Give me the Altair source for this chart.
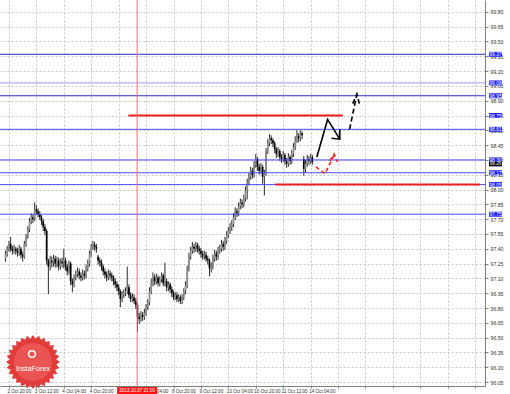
import math
import altair as alt
import pandas as pd

# ---------------- data ----------------
first_bar = -2
first_open = 97.30
gap_opens = {52: 97.32, 172: 98.31}

closes = [97.35, 97.40, 97.45, 97.40, 97.38, 97.40, 97.38, 97.36, 97.40, 97.34, 97.32, 97.45,
          97.52, 97.60, 97.68, 97.72, 97.70, 97.80, 97.78, 97.75, 97.72, 97.68,
          97.62, 97.58, 97.28, 97.22, 97.28, 97.26, 97.30, 97.25, 97.28, 97.22,
          97.27, 97.25, 97.28, 97.22, 97.17, 97.25, 97.07, 97.04, 97.11, 97.14,
          97.17, 97.13, 97.11, 97.15, 97.13, 97.20, 97.25, 97.35, 97.42, 97.44,
          97.42, 97.40, 97.28, 97.26, 97.22, 97.17, 97.14, 97.11, 97.15, 97.13,
          97.11, 97.07, 97.04, 97.01, 96.97, 96.89, 96.93, 96.95, 96.97, 97.01,
          96.93, 96.89, 96.91, 96.87, 96.83, 96.71, 96.69, 96.73, 96.71, 96.75,
          96.81, 96.85, 96.97, 97.05, 97.11, 97.07, 97.11, 97.05, 97.09, 97.13,
          97.05, 97.07, 97.01, 97.04, 96.99, 96.95, 96.91, 96.93, 96.89, 96.91,
          96.87, 96.91, 96.97, 97.03, 97.20, 97.32, 97.38, 97.42, 97.40, 97.44,
          97.40, 97.38, 97.35, 97.32, 97.34, 97.30, 97.28, 97.20, 97.22, 97.30,
          97.35, 97.32, 97.38, 97.40, 97.45, 97.42, 97.48, 97.54, 97.58, 97.62,
          97.65, 97.72, 97.78, 97.76, 97.83, 97.87, 97.85, 97.91, 97.99, 98.07,
          98.13, 98.19, 98.15, 98.25, 98.31, 98.23, 98.19, 98.23, 98.13, 98.16,
          98.39, 98.47, 98.52, 98.50, 98.47, 98.41, 98.36, 98.39, 98.33, 98.31,
          98.35, 98.29, 98.26, 98.33, 98.29, 98.36, 98.43, 98.50, 98.54, 98.52,
          98.57, 98.55, 98.21, 98.26, 98.31, 98.29, 98.33, 98.28]

highs = [97.38, 97.43, 97.48, 97.52, 97.43, 97.44, 97.42, 97.41, 97.44, 97.42, 97.37, 97.48,
         97.55, 97.63, 97.71, 97.76, 97.75, 97.87, 97.84, 97.81, 97.78, 97.74,
         97.70, 97.65, 97.60, 97.30, 97.33, 97.32, 97.34, 97.33, 97.32, 97.31,
         97.30, 97.31, 97.40, 97.31, 97.25, 97.28, 97.27, 97.10, 97.14, 97.18,
         97.21, 97.20, 97.16, 97.19, 97.18, 97.24, 97.29, 97.38, 97.45, 97.48,
         97.47, 97.45, 97.34, 97.31, 97.29, 97.24, 97.20, 97.17, 97.19, 97.18,
         97.16, 97.13, 97.10, 97.07, 97.04, 96.99, 96.97, 96.99, 97.01, 97.22,
         97.04, 96.96, 96.95, 96.94, 96.90, 96.85, 96.75, 96.77, 96.76, 96.79,
         96.84, 96.89, 97.01, 97.10, 97.16, 97.14, 97.15, 97.13, 97.12, 97.16,
         97.15, 97.26, 97.10, 97.07, 97.06, 97.02, 96.98, 96.96, 96.96, 96.94,
         96.93, 96.94, 97.00, 97.07, 97.23, 97.36, 97.42, 97.47, 97.45, 97.47,
         97.46, 97.43, 97.41, 97.38, 97.38, 97.37, 97.33, 97.30, 97.26, 97.34,
         97.39, 97.38, 97.42, 97.44, 97.49, 97.48, 97.52, 97.58, 97.62, 97.66,
         97.69, 97.76, 97.82, 97.81, 97.87, 97.91, 97.90, 97.95, 98.03, 98.11,
         98.17, 98.23, 98.22, 98.29, 98.36, 98.33, 98.26, 98.27, 98.25, 98.20,
         98.42, 98.51, 98.56, 98.55, 98.52, 98.49, 98.43, 98.43, 98.41, 98.36,
         98.39, 98.37, 98.32, 98.37, 98.35, 98.40, 98.47, 98.54, 98.60, 98.57,
         98.60, 98.59, 98.34, 98.30, 98.35, 98.34, 98.36, 98.35]

lows = [97.27, 97.32, 97.37, 97.37, 97.34, 97.35, 97.34, 97.32, 97.33, 97.30, 97.27, 97.30,
        97.42, 97.50, 97.57, 97.65, 97.66, 97.68, 97.74, 97.72, 97.69, 97.64,
        97.58, 97.54, 97.24, 96.94, 97.18, 97.21, 97.22, 97.21, 97.21, 97.18,
        97.19, 97.21, 97.20, 97.18, 97.13, 97.14, 97.03, 96.96, 97.01, 97.08,
        97.11, 97.09, 97.07, 97.08, 97.09, 97.10, 97.17, 97.22, 97.32, 97.39,
        97.38, 97.36, 97.24, 97.22, 97.18, 97.13, 97.10, 97.07, 97.08, 97.09,
        97.07, 97.03, 97.00, 96.97, 96.93, 96.81, 96.86, 96.90, 96.92, 96.94,
        96.90, 96.86, 96.86, 96.84, 96.79, 96.56, 96.64, 96.66, 96.67, 96.68,
        96.72, 96.78, 96.83, 96.94, 97.02, 97.03, 97.04, 97.02, 97.02, 97.06,
        97.02, 97.02, 96.97, 96.97, 96.95, 96.91, 96.88, 96.88, 96.86, 96.86,
        96.84, 96.84, 96.88, 96.94, 97.00, 97.17, 97.29, 97.35, 97.36, 97.37,
        97.36, 97.34, 97.31, 97.29, 97.29, 97.27, 97.24, 97.12, 97.16, 97.19,
        97.27, 97.28, 97.29, 97.35, 97.37, 97.38, 97.39, 97.45, 97.51, 97.55,
        97.58, 97.62, 97.69, 97.72, 97.73, 97.80, 97.81, 97.82, 97.88, 97.90,
        98.04, 98.10, 98.11, 98.12, 98.22, 98.19, 98.15, 98.16, 98.06, 97.94,
        98.14, 98.36, 98.44, 98.46, 98.43, 98.37, 98.32, 98.33, 98.29, 98.27,
        98.28, 98.25, 98.22, 98.23, 98.25, 98.26, 98.33, 98.40, 98.47, 98.48,
        98.49, 98.51, 98.14, 98.17, 98.23, 98.25, 98.26, 98.25]

# time axis labels (bar index of each label, one bar = one hour)
tick_bars = [0, 16, 32, 48, 64, 80, 96, 112, 128, 144, 160, 176, 192, 208, 224, 240, 256, 272]
tick_labels = ["2 Oct 20:00", "3 Oct 12:00", "4 Oct 04:00", "4 Oct 20:00", "7 Oct 12:00",
               "8 Oct 04:00", "8 Oct 20:00", "9 Oct 12:00", "10 Oct 04:00", "10 Oct 20:00",
               "11 Oct 12:00", "14 Oct 04:00"]

price_ticks = [96.05, 96.20, 96.35, 96.50, 96.65, 96.80, 96.95, 97.10, 97.25, 97.40, 97.55,
               97.70, 97.85, 98.00, 98.15, 98.30, 98.45, 98.60, 98.75, 98.90, 99.05, 99.20,
               99.35, 99.50, 99.65, 99.80]

blue_levels = [99.37, 99.08, 98.95, 98.61, 98.30, 98.17, 98.05, 97.75]
blue_shade = ["dark", "light", "dark", "mid", "mid", "mid", "mid", "mid"]
red_levels = [98.75, 98.05]
red_start = [69.7, 155.4]
red_end = [194.8, 274.8]
label_levels = [99.37, 99.08, 98.95, 98.75, 98.61, 98.30, 98.17, 98.05, 97.75]
bid_price = 98.26

cross_bar = 74.8
cross_label = "2013.10.07 21:00"

# hand-drawn forecast arrows (bar index, price)
arrow_grp = ["bs", "bs", "bs", "bsh", "bsh", "bsh",
             "bd", "bd", "bdh", "bdh", "bdh",
             "rd", "rd", "rd", "rdh", "rdh", "rdh"]
arrow_bar = [179.6, 185.9, 193.0, 188.2, 193.0, 193.0,
             198.7, 202.8, 200.6, 203.0, 204.4,
             179.0, 184.4, 189.7, 187.2, 189.7, 191.6]
arrow_price = [98.33, 98.71, 98.51, 98.52, 98.51, 98.61,
               98.61, 98.95, 98.87, 98.97, 98.87,
               98.23, 98.16, 98.35, 98.29, 98.36, 98.28]

# ---------------- tables ----------------
bars = list(range(first_bar, first_bar + len(closes)))
opens = []
prev = first_open
for b, c in zip(bars, closes):
    opens.append(gap_opens.get(b, prev))
    prev = c
candles = pd.DataFrame({"bar": bars, "open": opens, "high": highs, "low": lows, "close": closes})
candles["dir"] = ["up" if c >= o else "down" for o, c in zip(opens, closes)]

arrows = pd.DataFrame({"grp": arrow_grp, "bar": arrow_bar, "price": arrow_price})
arrows["ord"] = range(len(arrows))

W, H = 485, 386
xs = alt.Scale(domain=[-2.3, 274.8], nice=False, zero=False)
ys = alt.Scale(domain=[96.01, 99.92], nice=False, zero=False)

padded = tick_labels + [""] * (len(tick_bars) - len(tick_labels))
label_expr = "[" + ",".join("'%s'" % s for s in padded) + "][round(datum.value/16)] || ''"

FONT = "Liberation Sans"
xaxis = alt.Axis(values=tick_bars, labelExpr=label_expr, title=None, grid=True,
                 gridDash=[2, 2], gridColor="#c6c6c6", gridWidth=1,
                 domainColor="#808080", tickColor="#808080", tickSize=2,
                 labelFontSize=4.6, labelColor="#333333", labelAlign="left",
                 labelPadding=0, labelOffset=-2, labelFlush=False, labelOverlap=False,
                 labelFont=FONT)
yaxis = alt.Axis(orient="right", values=price_ticks, format=".2f", title=None, grid=True,
                 gridDash=[2, 2], gridColor="#c6c6c6", gridWidth=1,
                 domainColor="#808080", tickColor="#808080", tickSize=3,
                 labelFontSize=5.2, labelColor="#333333", labelPadding=2,
                 labelFlush=False, labelOverlap=False, labelFont=FONT)


def X(field):
    return alt.X(field, scale=xs, axis=xaxis)


def Y(field):
    return alt.Y(field, scale=ys, axis=yaxis)


base = alt.Chart(candles)
wicks = base.mark_rule(color="#2a2a2a", strokeWidth=1).encode(
    x=X("bar:Q"), y=Y("low:Q"), y2="high:Q")
bodies = base.mark_bar(size=1.7).encode(
    x=X("bar:Q"), y=Y("open:Q"), y2="close:Q",
    color=alt.Color("dir:N", scale=alt.Scale(domain=["up", "down"], range=["#8c8c8c", "#000000"]),
                    legend=None),
)

blue_df = pd.DataFrame({"price": blue_levels, "shade": blue_shade})
blue = alt.Chart(blue_df).mark_rule(strokeWidth=1).encode(
    y=Y("price:Q"),
    color=alt.Color("shade:N", scale=alt.Scale(domain=["dark", "mid", "light"],
                                               range=["#2a2ad0", "#4848ff", "#9a9aff"]),
                    legend=None))

red_df = pd.DataFrame({"price": red_levels, "x0": red_start, "x1": red_end})
red = alt.Chart(red_df).mark_rule(color="#ee1d1d", strokeWidth=2).encode(
    x=X("x0:Q"), x2="x1:Q", y=Y("price:Q"))

cross_df = pd.DataFrame({"bar": [cross_bar], "label": [cross_label]})
cross = alt.Chart(cross_df).mark_rule(color="#e87070", strokeWidth=1).encode(x=X("bar:Q"))

rect_path = "M-1,-0.38L1,-0.38L1,0.38L-1,0.38Z"
lab_df = pd.DataFrame({"price": label_levels, "txt": ["%.2f" % v for v in label_levels]})
lab_bg = alt.Chart(lab_df).mark_point(shape=rect_path, filled=True, color="#1a1aff",
                                      opacity=1, size=169).encode(
    x=alt.value(495.5), y=Y("price:Q"))
lab_tx = alt.Chart(lab_df).mark_text(color="white", fontSize=5, font=FONT).encode(
    x=alt.value(495.5), y=Y("price:Q"), text="txt:N")

bid_df = pd.DataFrame({"price": [bid_price], "txt": ["%.2f" % bid_price]})
bid_bg = alt.Chart(bid_df).mark_point(shape=rect_path, filled=True, color="#000000",
                                      opacity=1, size=169).encode(
    x=alt.value(495.5), y=Y("price:Q"))
bid_tx = alt.Chart(bid_df).mark_text(color="white", fontSize=4.6, font=FONT).encode(
    x=alt.value(495.5), y=Y("price:Q"), text="txt:N")

date_path = "M-1,-0.18L1,-0.18L1,0.18L-1,0.18Z"
date_bg = alt.Chart(cross_df).mark_point(shape=date_path, filled=True, color="#ff1010",
                                         opacity=1, size=1600).encode(
    x=X("bar:Q"), y=alt.value(390.5))
date_tx = alt.Chart(cross_df).mark_text(color="white", fontSize=4.6, font=FONT).encode(
    x=X("bar:Q"), y=alt.value(390.5), text="label:N")


def arrow_layer(groups, color, dash):
    kw = dict(color=color, strokeWidth=1.6)
    if dash:
        kw["strokeDash"] = dash
    return alt.Chart(arrows).transform_filter(
        alt.FieldOneOfPredicate(field="grp", oneOf=groups)
    ).mark_line(**kw).encode(
        x=X("bar:Q"), y=Y("price:Q"), detail="grp:N", order="ord:Q")


a1 = arrow_layer(["bs", "bsh"], "#000000", None)
a2 = arrow_layer(["bd", "bdh"], "#000000", [5, 3])
a3 = arrow_layer(["rd", "rdh"], "#ff2020", [4, 3])

# logo (decoration)
n = 28
pts = []
for k in range(2 * n):
    a = math.pi * k / n
    r = 1.0 if k % 2 == 0 else 0.87
    pts.append("%.3f,%.3f" % (r * math.sin(a), -r * math.cos(a)))
star_path = "M" + "L".join(pts) + "Z"
logo_df = pd.DataFrame({"t": ["InstaForex"]})
logo = alt.Chart(logo_df).mark_point(shape=star_path, filled=True, color="#e23c3a",
                                     opacity=1, size=54 * 54).encode(
    x=alt.value(33), y=alt.value(362))
logo_in = alt.Chart(logo_df).mark_point(shape="circle", filled=True, color="#ea5553",
                                        opacity=1, size=38 * 38).encode(
    x=alt.value(33), y=alt.value(362))
logo_icon = alt.Chart(logo_df).mark_point(shape="circle", filled=False, color="white",
                                          strokeWidth=1.5, opacity=1, size=45).encode(
    x=alt.value(32), y=alt.value(354))
logo_tx = alt.Chart(logo_df).mark_text(color="white", fontSize=7.2, font=FONT).encode(
    x=alt.value(33), y=alt.value(369), text="t:N")

chart = alt.layer(
    wicks, bodies, blue, red, cross, a1, a2, a3,
    lab_bg, lab_tx, bid_bg, bid_tx, date_bg, date_tx,
    logo, logo_in, logo_icon, logo_tx,
).resolve_scale(color="independent").properties(
    width=W, height=H,
    autosize=alt.AutoSizeParams(type="none"),
    padding={"left": 0, "top": 0, "right": 25, "bottom": 8},
    background="white",
).configure_view(stroke=None)

chart.save("out.html", embed_options={"renderer": "svg", "actions": False})
